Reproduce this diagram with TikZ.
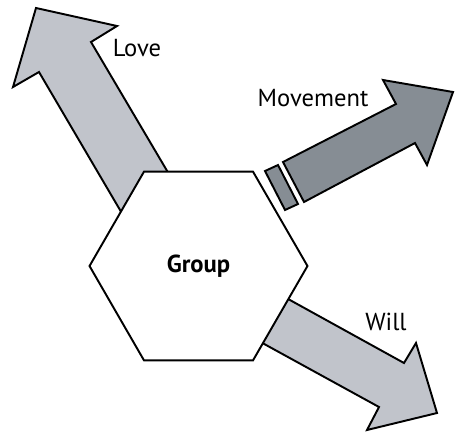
\documentclass[tikz,border=0pt]{standalone}
\usepackage{fontspec}
\setmainfont{PT Sans}
\usepackage{xcolor}
\usetikzlibrary{shapes.geometric}
\definecolor{lightarrow}{RGB}{193,196,203}
\definecolor{darkarrow}{RGB}{134,141,148}

\begin{document}
\begin{tikzpicture}[
		x=0.02cm, y=-0.02cm,
		hex/.style = {regular polygon, regular polygon sides=6, draw=black, fill=white, line width=1.1pt, minimum size=4.36cm, inner sep=0pt, font=\fontsize{14}{16}\selectfont\bfseries},
		blk/.style = {draw=black, line width=1.1pt, line join=miter},
		lbl/.style = {font=\fontsize{14}{16}\selectfont, inner sep=0pt}
		]
		\useasboundingbox (0,0) rectangle (455,433);
		
		%Arrows
		\draw[blk, fill=lightarrow]	(130,227) -- (39,72) -- (13,87) -- (36,8) -- (117,26) -- (91,42) -- (176,186) -- cycle;
		\draw[blk, fill=lightarrow]	(270,289) -- (404,363) -- (416,343) -- (437,413) -- (367,430) -- (379,407) -- (246,334) -- cycle;
		\draw[blk, fill=darkarrow]	(283,162) -- (396,104) -- (383,80) -- (453,92) -- (427,165) -- (415,143) -- (304,202) -- cycle;
		\draw[blk, fill=darkarrow]	(265,171) -- (278,165) -- (298,204) -- (285,210) -- cycle;
		
		%Nodes
		\node[hex]	(group)	at	(198.5,266)	{Group};
		\node[lbl]	(love)	at	(137,48)	{Love};
		\node[lbl]	(move)	at	(313,98)	{Movement};
		\node[lbl]	(will)	at	(386,322)	{Will};
	\end{tikzpicture}
\end{document}
